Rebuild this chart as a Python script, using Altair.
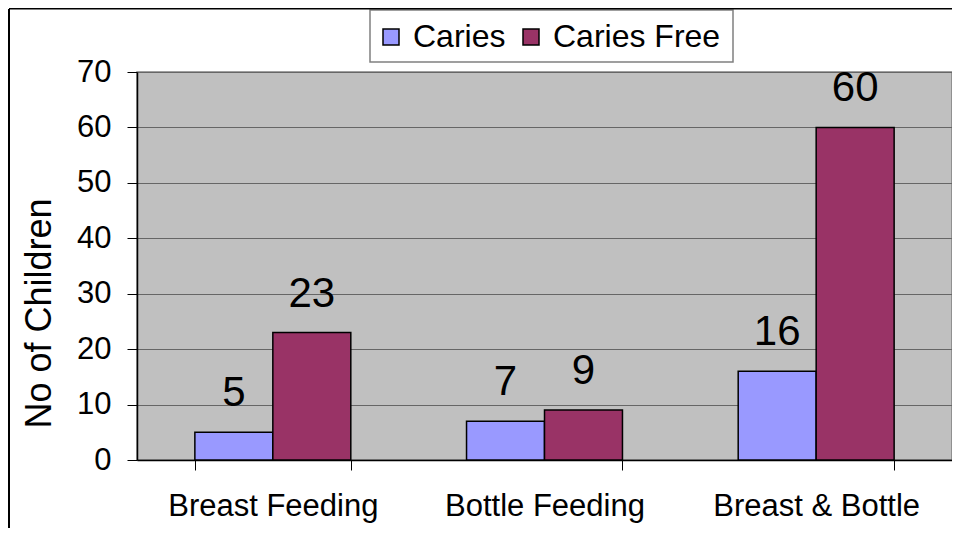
import altair as alt
import pandas as pd

categories = ["Breast Feeding", "Bottle Feeding", "Breast & Bottle"]
caries = [5, 7, 16]
caries_free = [23, 9, 60]
series = ["Caries", "Caries Free"]
colors = ["#9999FF", "#993366"]
y_ticks = [0, 10, 20, 30, 40, 50, 60, 70]

rows = []
for c, a, b in zip(categories, caries, caries_free):
    rows.append({"cat": c, "series": series[0], "value": a})
    rows.append({"cat": c, "series": series[1], "value": b})
df = pd.DataFrame(rows)

FONT = "Liberation Sans"
W, H = 815, 388

x = alt.X("cat:N", sort=categories, title=None,
          scale=alt.Scale(paddingInner=0.426, paddingOuter=0.213),
          axis=alt.Axis(labelAngle=0, labelFontSize=31, labelFont=FONT, labelColor="black",
                        tickBand="extent", tickSize=10, tickColor="black", tickWidth=1,
                        domainColor="black", domainWidth=1.5, labelPadding=21,
                        labelBaseline="top", grid=False, labelLimit=400))
xo = alt.XOffset("series:N", sort=series,
                 scale=alt.Scale(paddingInner=0, paddingOuter=0))
y = alt.Y("value:Q", scale=alt.Scale(domain=[0, 70], nice=False),
          axis=alt.Axis(values=y_ticks, title="No of Children", titleFont=FONT,
                        titleFontSize=36, titleFontWeight="normal", titleColor="black",
                        titleAngle=-90, titleBaseline="alphabetic", titleAlign="center",
                        titleX=-87, titleY=241,
                        labelFontSize=31, labelFont=FONT, labelColor="black",
                        labelPadding=16, tickSize=10, tickColor="black",
                        domainColor="black", domainWidth=1.5,
                        grid=True, gridColor="#666666", gridWidth=1))
color = alt.Color("series:N", sort=series,
                  scale=alt.Scale(domain=series, range=colors),
                  legend=alt.Legend(orient="none", legendX=238, legendY=-51,
                                    direction="horizontal", title=None,
                                    symbolType="square", symbolSize=256,
                                    symbolStrokeColor="black", symbolStrokeWidth=1.5,
                                    symbolOpacity=1,
                                    labelFontSize=32, labelFont=FONT, labelColor="black",
                                    labelLimit=400, columnPadding=9, labelOffset=6,
                                    padding=0))

base = alt.Chart(df)
bars = base.mark_bar(stroke="black", strokeWidth=1.5, opacity=1).encode(
    x=x, xOffset=xo, y=y, color=color)
labels = base.mark_text(fontSize=42, font=FONT, color="black", dy=-26,
                        baseline="alphabetic").encode(
    x=alt.X("cat:N", sort=categories), xOffset=xo, y="value:Q", text="value:Q")

frame_df = pd.DataFrame({"k": [0]})
legend_box = alt.Chart(frame_df).mark_rect(fill="white", stroke="#808080",
                                            strokeWidth=1.5).encode(
    x=alt.value(233), x2=alt.value(596), y=alt.value(-62), y2=alt.value(-10))
left_line = alt.Chart(frame_df).mark_rule(color="black", strokeWidth=2).encode(
    x=alt.value(-128), y=alt.value(-63), y2=alt.value(H + 68))
top_line = alt.Chart(frame_df).mark_rule(color="black", strokeWidth=2).encode(
    x=alt.value(-128), x2=alt.value(W + 10), y=alt.value(-63.5))

chart = alt.layer(legend_box, bars, labels, left_line, top_line).properties(
    width=W, height=H,
    padding={"left": 129, "top": 64, "right": 0, "bottom": 68},
    autosize=alt.AutoSizeParams(type="none"),
    background="white",
).configure_view(
    stroke="#808080", strokeWidth=1.5, fill="#C0C0C0"
).configure_legend(
    strokeWidth=0
)

chart.save("out.html", embed_options={"renderer": "svg", "actions": False})
